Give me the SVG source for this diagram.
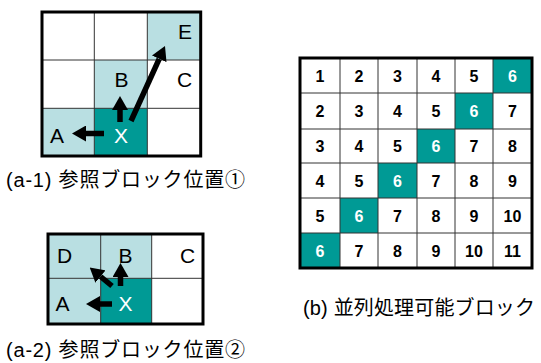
<svg xmlns="http://www.w3.org/2000/svg" width="541" height="363" viewBox="0 0 541 363">
<defs>
<style>
.lt{fill:#b9dfe2}
.tl{fill:#009a95}
.wh{fill:#ffffff}
.gl{stroke:#333;stroke-width:1;fill:none}
.ob{stroke:#000;stroke-width:3;fill:none}
.lbl{font-family:"Liberation Sans",Arial,sans-serif;font-size:21px;fill:#000;text-anchor:middle}
.lblw{font-family:"Liberation Sans",Arial,sans-serif;font-size:21px;fill:#fff;text-anchor:middle}
.num{font-family:"Liberation Sans",Arial,sans-serif;font-size:16px;font-weight:bold;fill:#000;text-anchor:middle}
.numw{font-family:"Liberation Sans",Arial,sans-serif;font-size:16px;font-weight:bold;fill:#fff;text-anchor:middle}
.cap{font-family:"Liberation Sans","Noto Sans CJK JP",sans-serif;font-size:20px;fill:#000}
.arr{stroke:#000;stroke-width:5.5;fill:none;marker-end:url(#ah)}
</style>
<marker id="ah" markerUnits="userSpaceOnUse" markerWidth="14" markerHeight="16" refX="0" refY="8" orient="auto" viewBox="0 0 14 16">
<path d="M0,0 L14,8 L0,16 Z" fill="#000"/>
</marker>
</defs>

<g id="grid-a1">
<rect x="42" y="12" width="158.7" height="144" class="wh"/>
<rect x="147.3" y="12" width="53.4" height="48" class="lt"/>
<rect x="94.3" y="60" width="53" height="48.3" class="lt"/>
<rect x="42" y="108.3" width="52.3" height="47.7" class="lt"/>
<rect x="94.3" y="108.3" width="53" height="47.7" class="tl"/>
<path class="gl" d="M94.3,12V156M147.3,12V156M42,60H200.7M42,108.3H200.7"/>
<rect x="42" y="12" width="158.7" height="144" class="ob"/>
<text class="lbl" x="185" y="38.5">E</text>
<text class="lbl" x="121.5" y="86.5">B</text>
<text class="lbl" x="184.5" y="86.5">C</text>
<text class="lbl" x="57" y="142.5">A</text>
<text class="lblw" x="121" y="142.5">X</text>
</g>

<g id="grid-a2">
<rect x="48" y="234" width="155" height="90" class="wh"/>
<rect x="48" y="234" width="103.7" height="44.3" class="lt"/>
<rect x="48" y="278.3" width="52.7" height="45.7" class="lt"/>
<rect x="100.7" y="278.3" width="51" height="45.7" class="tl"/>
<path class="gl" d="M100.7,234V324M151.7,234V324M48,278.3H203"/>
<rect x="48" y="234" width="155" height="90" class="ob"/>
<text class="lbl" x="64.5" y="262.5">D</text>
<text class="lbl" x="125.5" y="262.5">B</text>
<text class="lbl" x="187.5" y="262.5">C</text>
<text class="lbl" x="62.5" y="310.5">A</text>
<text class="lblw" x="125.5" y="310.5">X</text>
</g>

<g id="grid-b">
<rect x="300" y="58" width="232" height="210" class="wh"/>
<rect x="493" y="58" width="39" height="35" class="tl"/>
<rect x="455" y="93" width="38" height="36" class="tl"/>
<rect x="417" y="129" width="38" height="34" class="tl"/>
<rect x="378" y="163" width="39" height="35" class="tl"/>
<rect x="340" y="198" width="38" height="35" class="tl"/>
<rect x="300" y="233" width="40" height="35" class="tl"/>
<path class="gl" d="M340,58V268M378,58V268M417,58V268M455,58V268M493,58V268M300,93H532M300,129H532M300,163H532M300,198H532M300,233H532"/>
<rect x="300" y="58" width="232" height="210" class="ob"/>
<g>
<text class="num" x="320" y="81.5">1</text><text class="num" x="359" y="81.5">2</text><text class="num" x="397.5" y="81.5">3</text><text class="num" x="436" y="81.5">4</text><text class="num" x="474" y="81.5">5</text><text class="numw" x="512.5" y="81.5">6</text>
<text class="num" x="320" y="117">2</text><text class="num" x="359" y="117">3</text><text class="num" x="397.5" y="117">4</text><text class="num" x="436" y="117">5</text><text class="numw" x="474" y="117">6</text><text class="num" x="512.5" y="117">7</text>
<text class="num" x="320" y="152">3</text><text class="num" x="359" y="152">4</text><text class="num" x="397.5" y="152">5</text><text class="numw" x="436" y="152">6</text><text class="num" x="474" y="152">7</text><text class="num" x="512.5" y="152">8</text>
<text class="num" x="320" y="186.5">4</text><text class="num" x="359" y="186.5">5</text><text class="numw" x="397.5" y="186.5">6</text><text class="num" x="436" y="186.5">7</text><text class="num" x="474" y="186.5">8</text><text class="num" x="512.5" y="186.5">9</text>
<text class="num" x="320" y="221.5">5</text><text class="numw" x="359" y="221.5">6</text><text class="num" x="397.5" y="221.5">7</text><text class="num" x="436" y="221.5">8</text><text class="num" x="474" y="221.5">9</text><text class="num" x="512.5" y="221.5">10</text>
<text class="numw" x="320" y="256.5">6</text><text class="num" x="359" y="256.5">7</text><text class="num" x="397.5" y="256.5">8</text><text class="num" x="436" y="256.5">9</text><text class="num" x="474" y="256.5">10</text><text class="num" x="512.5" y="256.5">11</text>
</g>
</g>

<g id="connectors">
<line class="arr" x1="104" y1="133.5" x2="86" y2="133.5"/>
<line class="arr" x1="120" y1="122" x2="120" y2="110"/>
<line class="arr" x1="131" y1="121" x2="159.2" y2="58.8"/>
<line class="arr" x1="112" y1="304" x2="100" y2="304"/>
<line class="arr" x1="120.5" y1="286" x2="120.5" y2="277"/>
<line class="arr" x1="112" y1="286" x2="100.5" y2="276.5"/>
</g>

<g id="captions">
<text class="cap" x="6" y="187" textLength="239" lengthAdjust="spacing">(a-1) 参照ブロック位置①</text>
<text class="cap" x="6" y="357" textLength="239" lengthAdjust="spacing">(a-2) 参照ブロック位置②</text>
<text class="cap" x="303" y="315" textLength="232" lengthAdjust="spacing">(b) 並列処理可能ブロック</text>
</g>
</svg>
